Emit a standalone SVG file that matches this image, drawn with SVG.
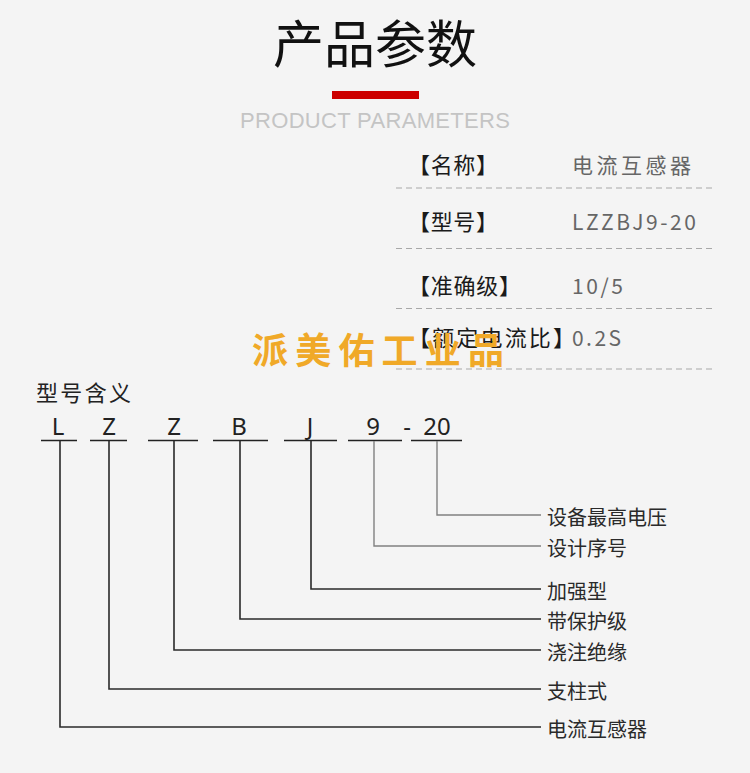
<svg xmlns="http://www.w3.org/2000/svg" width="750" height="773" viewBox="0 0 750 773">
<style>
.cjk{font-family:"Noto Sans CJK SC","Noto Sans",sans-serif}
.lbl{font-size:22px;fill:#1a1a1a}
.val{font-size:21px;fill:#666}
.dash{stroke:#a8a8a8;stroke-width:1.2;stroke-dasharray:6 4;fill:none}
.let{font-family:"Noto Sans","Noto Sans CJK SC",sans-serif;font-size:24px;fill:#222;text-anchor:middle}
.ul{stroke:#222;stroke-width:1.6}
.con{fill:none;stroke:#2a2a2a;stroke-width:1.6}
.conl{fill:none;stroke:#808080;stroke-width:1.4}
.mean{font-size:20px;fill:#2a2a2a}
</style>
<rect width="750" height="773" fill="#f4f4f4"/>
<g id="title">
<text x="375" y="63" class="cjk" font-size="51" fill="#111" text-anchor="middle">产品参数</text>
<rect x="332" y="91" width="87" height="8" fill="#cc0000"/>
<text x="375" y="128" font-family="'Liberation Sans',Arial,sans-serif" font-size="22" fill="#c4c4c4" text-anchor="middle" textLength="270" lengthAdjust="spacing">PRODUCT PARAMETERS</text>
</g>
<g id="table">
<g id="row-name">
<text x="408" y="173" class="cjk lbl" textLength="90" lengthAdjust="spacing">【名称】</text>
<text x="572" y="173" class="cjk val" textLength="119" lengthAdjust="spacing">电流互感器</text>
<line x1="396" y1="188" x2="713" y2="188" class="dash"/>
</g>
<g id="row-model">
<text x="408" y="230" class="cjk lbl" textLength="90" lengthAdjust="spacing">【型号】</text>
<text x="572" y="230" class="cjk val" textLength="124" lengthAdjust="spacing">LZZBJ9-20</text>
<line x1="396" y1="248.5" x2="713" y2="248.5" class="dash"/>
</g>
<g id="row-accuracy">
<text x="408" y="294" class="cjk lbl" textLength="113" lengthAdjust="spacing">【准确级】</text>
<text x="572" y="294" class="cjk val" textLength="51" lengthAdjust="spacing">10/5</text>
<line x1="396" y1="308.5" x2="713" y2="308.5" class="dash"/>
</g>
<g id="row-ratio">
<text x="408" y="346" class="cjk lbl" textLength="167" lengthAdjust="spacing">【额定电流比】</text>
<text x="572" y="346" class="cjk val" textLength="49" lengthAdjust="spacing">0.2S</text>
<line x1="396" y1="369" x2="713" y2="369" class="dash"/>
</g>
</g>
<g id="watermark">
<text x="252" y="364" class="cjk" font-size="36" font-weight="bold" fill="#f0a928" textLength="252" lengthAdjust="spacing">派美佑工业品</text>
</g>
<g id="heading">
<text x="36" y="401" class="cjk" font-size="22" fill="#222" textLength="95" lengthAdjust="spacing">型号含义</text>
</g>
<g id="code">
<g id="c-L"><text x="58" y="435" class="let">L</text><line x1="41" y1="440.5" x2="77" y2="440.5" class="ul"/></g>
<g id="c-Z1"><text x="109" y="435" class="let">Z</text><line x1="90" y1="440.5" x2="127" y2="440.5" class="ul"/></g>
<g id="c-Z2"><text x="174" y="435" class="let">Z</text><line x1="148" y1="440.5" x2="198" y2="440.5" class="ul"/></g>
<g id="c-B"><text x="239" y="435" class="let">B</text><line x1="213" y1="440.5" x2="268" y2="440.5" class="ul"/></g>
<g id="c-J"><text x="310" y="435" class="let">J</text><line x1="284" y1="440.5" x2="337" y2="440.5" class="ul"/></g>
<g id="c-9"><text x="373" y="435" class="let">9</text><line x1="348" y1="440.5" x2="402" y2="440.5" class="ul"/></g>
<g id="c-dash"><text x="407" y="435" class="let">-</text></g>
<g id="c-20"><text x="437" y="435" class="let">20</text><line x1="411" y1="440.5" x2="462" y2="440.5" class="ul"/></g>
</g>
<g id="connectors">
<path d="M437 441V515H541" class="conl"/>
<path d="M374 441V546H541" class="conl"/>
<path d="M311 441V589H541" class="con"/>
<path d="M240 441V619H541" class="con"/>
<path d="M174 441V650H541" class="con"/>
<path d="M109 441V689H541" class="con"/>
<path d="M60 441V727H541" class="con"/>
</g>
<g id="m-voltage"><text x="547" y="524.5" class="cjk mean">设备最高电压</text></g>
<g id="m-serial"><text x="547" y="555.5" class="cjk mean">设计序号</text></g>
<g id="m-reinforced"><text x="547" y="598.5" class="cjk mean">加强型</text></g>
<g id="m-protection"><text x="547" y="628.5" class="cjk mean">带保护级</text></g>
<g id="m-cast"><text x="547" y="659.5" class="cjk mean">浇注绝缘</text></g>
<g id="m-post"><text x="547" y="698.5" class="cjk mean">支柱式</text></g>
<g id="m-ct"><text x="547" y="736.5" class="cjk mean">电流互感器</text></g>
</svg>
